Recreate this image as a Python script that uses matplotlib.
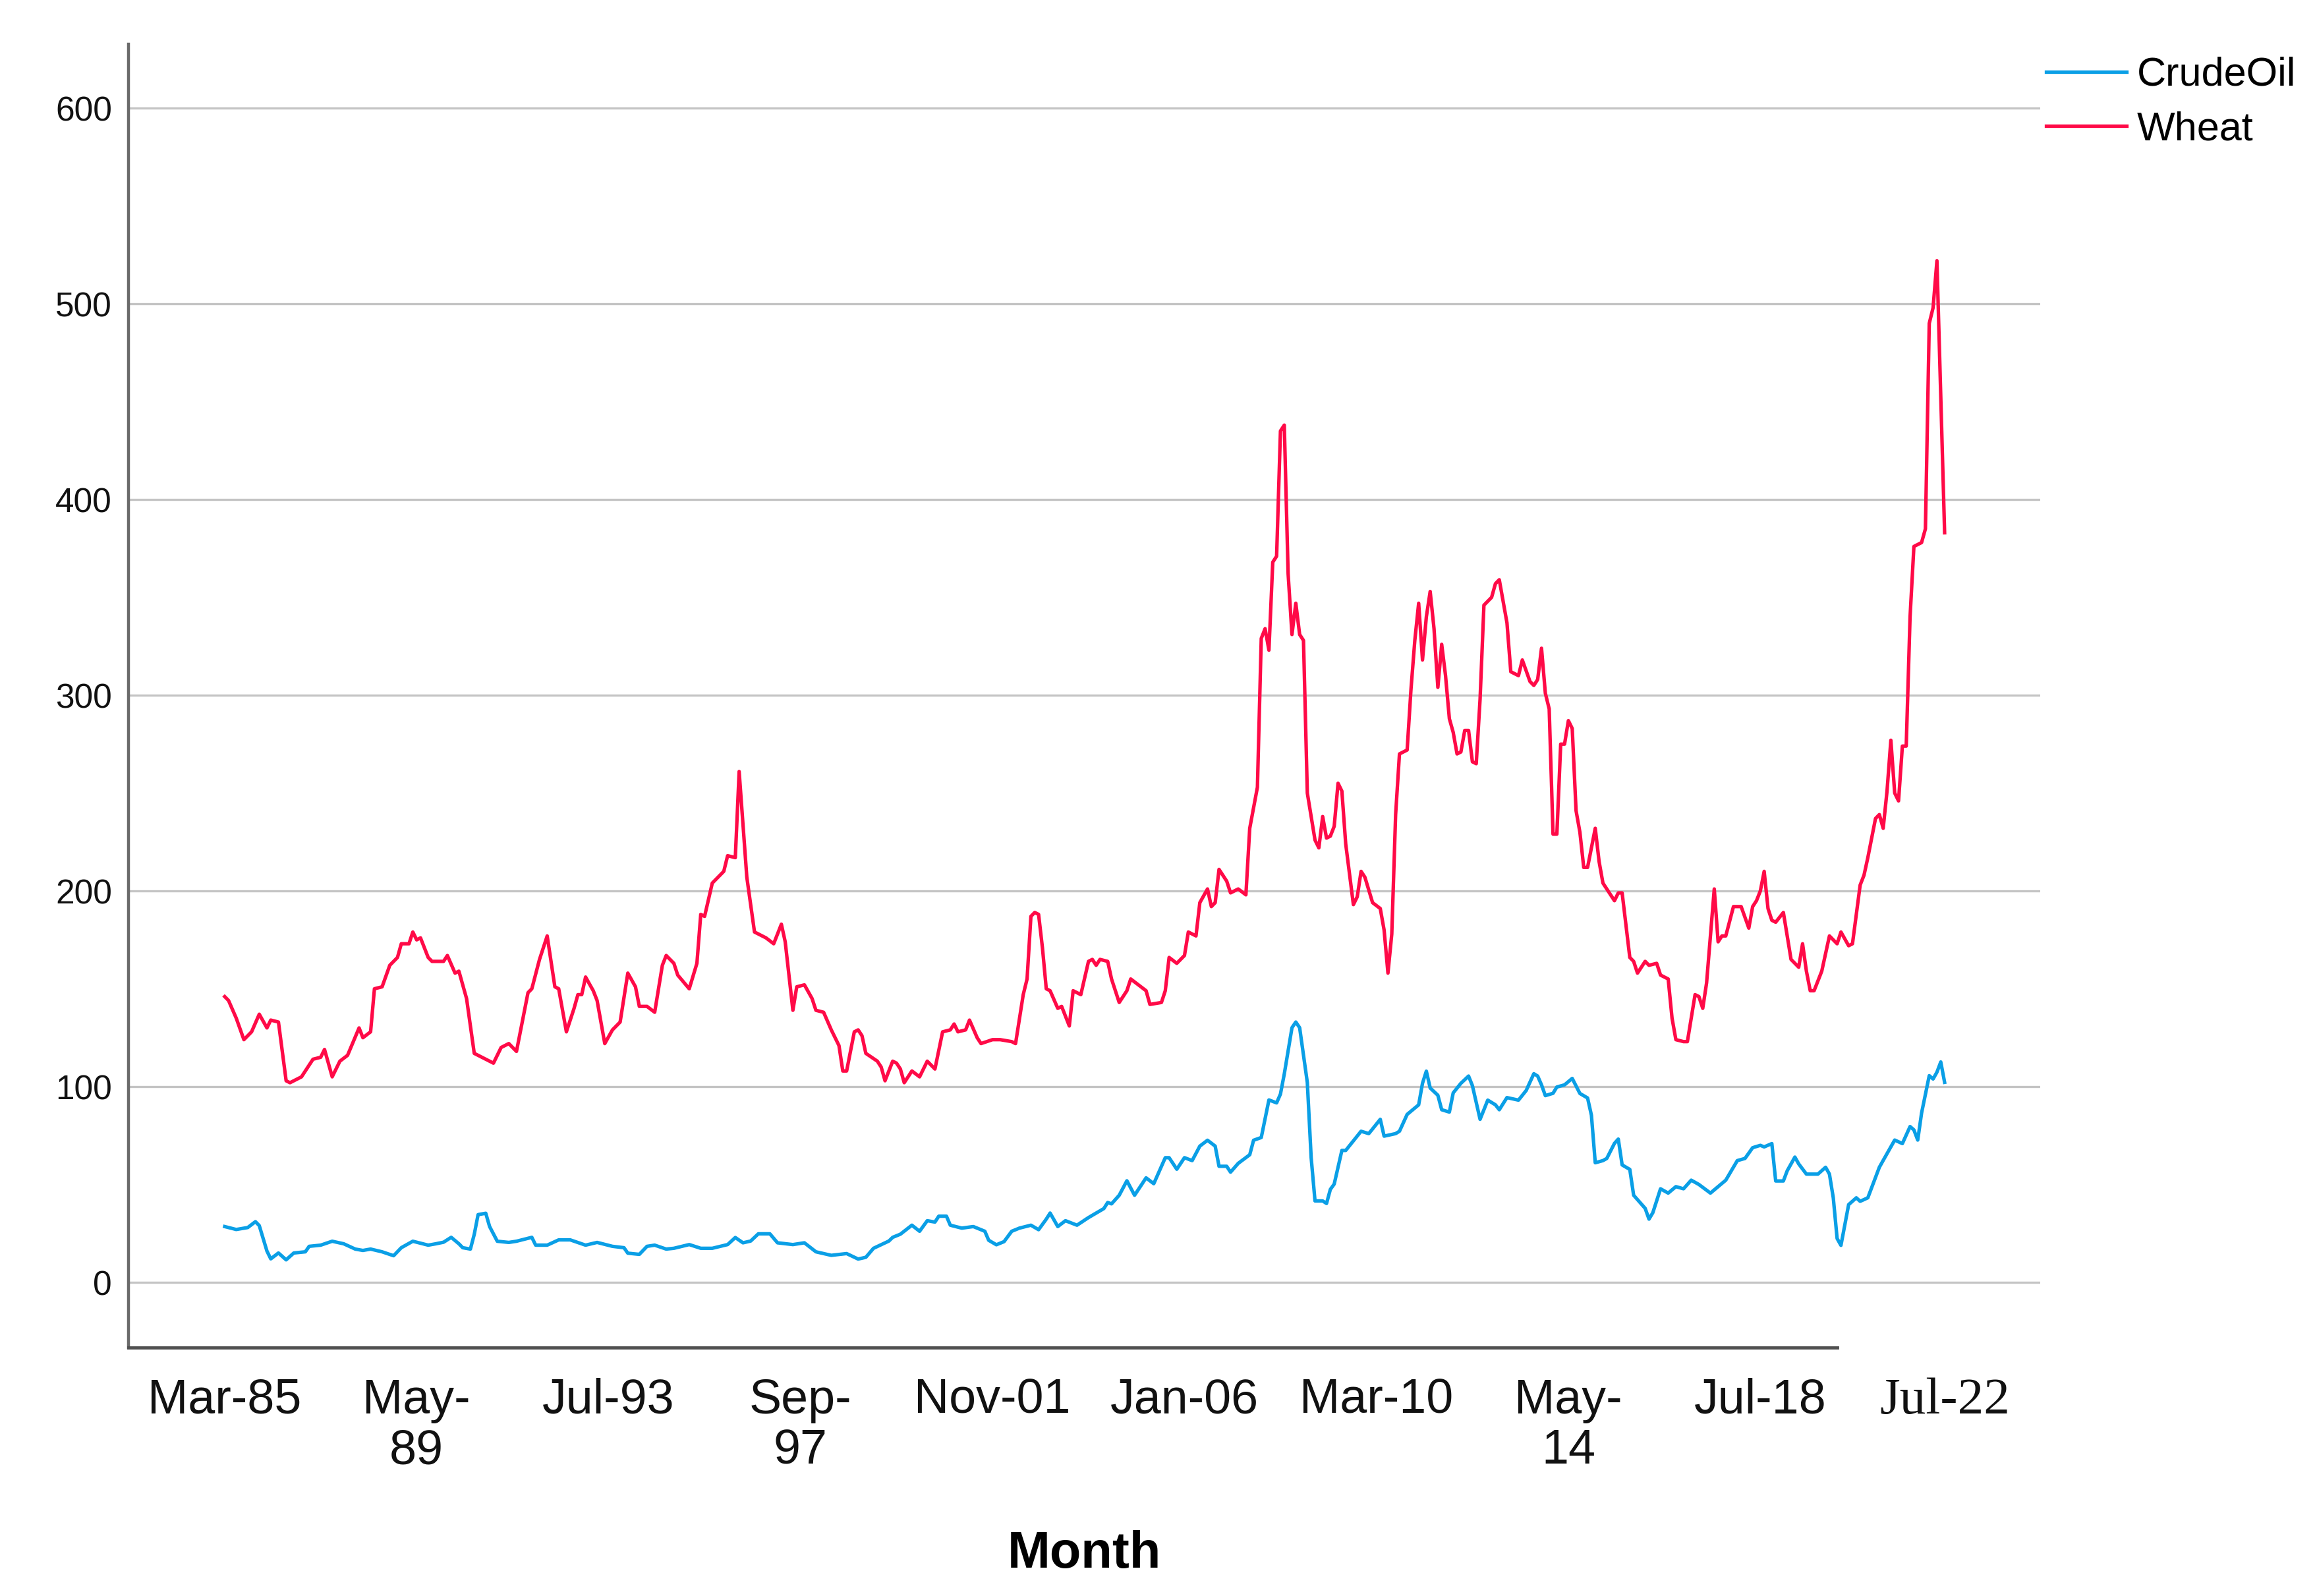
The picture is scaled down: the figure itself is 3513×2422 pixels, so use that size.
import matplotlib
matplotlib.use("Agg")
import matplotlib.pyplot as plt

# Month index 0 = Mar-1985 (monthly series)
wheat_month = [0, 1, 3, 5, 7, 9, 11, 12, 14, 16, 17, 20, 23, 25, 26, 28, 30, 32, 35, 36, 38, 39, 41, 43, 45, 46, 48, 49,
               50, 51, 53, 54, 57, 58, 60, 61, 63, 65, 68, 70, 72, 74, 76, 79, 80, 82, 84, 86, 87, 89, 91, 92, 93, 94,
               96, 97, 99, 101, 103, 105, 107, 108, 110, 112, 114, 115, 117, 118, 121, 123, 124, 125, 127, 129, 130,
               131, 133, 134, 136, 138, 141, 143, 145, 146, 148, 149, 151, 153, 154, 156, 158, 160, 161, 162, 164,
               165, 166, 167, 170, 171, 172, 174, 175, 176, 177, 179, 181, 183, 185, 187, 189, 190, 191, 193, 194,
               196, 197, 200, 202, 205, 206, 208, 209, 210, 211, 212, 213, 214, 215, 217, 218, 220, 221, 223, 225,
               226, 227, 228, 230, 231, 233, 235, 236, 238, 240, 241, 244, 245, 246, 248, 250, 251, 253, 254, 256,
               257, 258, 259, 261, 262, 264, 266, 267, 269, 270, 271, 272, 273, 274, 275, 276, 277, 278, 279, 280,
               281, 282, 284, 285, 286, 287, 288, 289, 290, 291, 292, 294, 295, 296, 297, 299, 301, 302, 303, 304,
               305, 306, 308, 309, 310, 311, 312, 313, 314, 315, 316, 317, 318, 319, 320, 321, 322, 323, 324, 325,
               326, 327, 328, 330, 331, 332, 334, 335, 337, 338, 340, 341, 342, 343, 344, 345, 346, 347, 348, 349,
               350, 351, 352, 353, 354, 355, 357, 358, 359, 360, 362, 363, 364, 366, 367, 368, 370, 371, 373, 374,
               376, 377, 378, 380, 381, 383, 384, 385, 386, 388, 389, 390, 391, 393, 395, 397, 398, 399, 400, 401,
               402, 403, 404, 406, 408, 410, 411, 412, 413, 414, 416, 418, 420, 421, 423, 424, 426, 427, 428, 430,
               431, 432, 433, 434, 435, 436, 437, 438, 439, 440, 442, 443, 444, 445, 446, 448]
wheat_value = [146, 144, 135, 124, 128, 137, 130, 134, 133, 103, 102, 105, 114, 115, 119, 105, 113, 116, 130, 125, 128,
               150, 151, 162, 166, 173, 173, 179, 175, 176, 166, 164, 164, 167, 158, 159, 145, 117, 114, 112, 120, 122,
               118, 148, 150, 165, 177, 151, 150, 128, 140, 147, 147, 156, 149, 144, 122, 129, 133, 158, 151, 141, 141,
               138, 162, 167, 163, 157, 150, 163, 188, 187, 204, 208, 210, 218, 217, 261, 207, 179, 176, 173, 183, 174,
               139, 151, 152, 145, 139, 138, 129, 121, 108, 108, 128, 129, 126, 117, 113, 110, 103, 113, 112, 109, 102,
               108, 105, 113, 109, 128, 129, 132, 128, 129, 134, 125, 122, 124, 124, 123, 122, 147, 155, 187, 189, 188,
               171, 150, 149, 140, 141, 131, 149, 147, 164, 165, 162, 165, 164, 155, 143, 149, 155, 152, 149, 142, 143,
               149, 166, 163, 167, 179, 177, 194, 201, 192, 194, 211, 205, 199, 201, 198, 232, 253, 329, 334, 323, 368,
               371, 435, 438, 362, 331, 347, 331, 328, 250, 226, 222, 238, 227, 228, 233, 255, 251, 224, 193, 197, 210,
               207, 194, 191, 180, 158, 178, 239, 270, 272, 303, 328, 347, 318, 340, 353, 334, 304, 326, 310, 288, 281,
               270, 271, 282, 282, 266, 265, 298, 346, 350, 357, 359, 337, 312, 310, 318, 307, 305, 308, 324, 301, 293,
               229, 229, 275, 275, 287, 283, 241, 230, 212, 212, 232, 215, 204, 201, 195, 199, 199, 166, 164, 158, 164,
               162, 163, 157, 155, 135, 124, 123, 123, 147, 146, 140, 153, 201, 174, 177, 177, 192, 192, 181, 192, 195,
               200, 210, 191, 185, 184, 189, 165, 161, 173, 159, 149, 149, 159, 177, 173, 179, 172, 173, 203, 208, 217,
               237, 239, 232, 251, 277, 250, 246, 274, 274, 340, 376, 378, 385, 490, 498, 522, 383]

oil_month = [0, 3, 6, 8, 9, 11, 12, 14, 16, 18, 21, 22, 25, 28, 31, 34, 36, 38, 41, 44, 46, 49, 53, 55, 57, 59, 61, 62,
             64, 65, 66, 68, 69, 71, 74, 76, 80, 81, 84, 87, 90, 94, 97, 101, 104, 105, 108, 110, 112, 115, 117, 121,
             124, 127, 131, 133, 135, 137, 139, 142, 144, 148, 151, 154, 158, 162, 165, 167, 169, 173, 174, 176, 179,
             181, 183, 185, 186, 188, 189, 192, 195, 198, 199, 201, 203, 205, 207, 210, 212, 214, 215, 217, 219, 222,
             225, 227, 229, 230, 231, 233, 235, 237, 240, 242, 245, 246, 248, 250, 252, 254, 256, 258, 259, 261, 262,
             264, 267, 268, 270, 272, 274, 275, 276, 278, 279, 280, 282, 283, 284, 286, 287, 288, 289, 291, 292, 294,
             296, 298, 299, 301, 302, 305, 306, 308, 311, 312, 313, 314, 316, 317, 319, 320, 322, 324, 325, 327, 329,
             331, 332, 334, 337, 339, 341, 342, 343, 344, 346, 347, 349, 351, 353, 355, 356, 357, 359, 360, 362, 363,
             364, 366, 367, 370, 371, 372, 374, 376, 378, 380, 382, 384, 387, 389, 391, 394, 396, 398, 400, 401, 403,
             404, 406, 407, 409, 410, 412, 415, 417, 418, 419, 420, 421, 422, 423, 425, 426, 428, 430, 431, 432, 434,
             435, 437, 439, 440, 441, 442, 444, 445, 446, 447, 448]
oil_value = [28.5, 27, 28, 31, 29, 16, 12, 15, 11.5, 15, 15.6, 18.4, 19, 21, 19.7, 17, 16.3, 17, 15.6, 13.6, 17.7, 21,
             19, 19.7, 20.5, 23, 19.7, 17.7, 17, 24.5, 34.6, 35.3, 28.5, 21, 20.4, 21, 23, 19, 19, 21.7, 21.7, 19, 20.4,
             18.4, 17.7, 14.9, 14.3, 18.4, 19, 17, 17.4, 19.3, 17.4, 17.4, 19.3, 22.9, 20.2, 21.1, 24.8, 24.8, 20.2,
             19.3, 20.2, 15.6, 13.8, 14.7, 11.9, 12.8, 17.4, 21.1, 23, 24.6, 29.2, 26.1, 31.5, 30.8, 33.8, 33.8, 29.2,
             27.7, 28.5, 26.1, 21.5, 19.2, 20.8, 26.1, 27.7, 29.2, 26.9, 32.3, 35.4, 28.5, 31.5, 29.2, 33.1, 35.4, 37.7,
             40.8, 40.1, 44.5, 51.9, 44.5, 53.4, 50.4, 63.7, 63.7, 57.8, 63.7, 62.2, 69.6, 72.6, 69.6, 59.3, 59.3, 56.3,
             60.8, 65.2, 72.6, 74, 93.2, 91.7, 96.2, 106.5, 130.1, 133, 130.1, 102.1, 63.7, 41.6, 41.6, 40.3, 47.5, 50.2,
             67.4, 67.4, 72.3, 77.2, 76, 78.4, 83.3, 74.7, 76, 77.2, 85.8, 90.7, 101.7, 107.9, 99.3, 95.6, 88.2, 87,
             96.8, 101.7, 105.4, 100.5, 83.3, 93.1, 90.7, 88.2, 94.4, 93.1, 98, 106.6, 105.4, 100.9, 95.4, 96.6, 99.8,
             100.9, 104.2, 96.5, 94.2, 85.4, 61.1, 62.2, 63.3, 71, 73.2, 60, 57.7, 44.5, 37.8, 32.3, 35.6, 47.8, 45.6,
             48.9, 47.8, 52.2, 50, 45.6, 48.9, 52.2, 62.2, 63.3, 68.8, 70, 69.2, 70.9, 51.8, 51.8, 57, 64, 60.5, 55.3,
             55.3, 58.8, 55.3, 43.2, 22.4, 18.9, 29.3, 39.7, 43.2, 41.4, 43.2, 53.6, 58.8, 62.3, 69.2, 72.7, 70.9, 79.6,
             77.9, 72.7, 86.5, 105.6, 103.9, 107.4, 112.6, 102.2]

tick_months = [0, 50, 100, 150, 200, 250, 300, 350, 400, 448]
tick_labels = ["Mar-85", "May-\n89", "Jul-93", "Sep-\n97", "Nov-01", "Jan-06", "Mar-10", "May-\n14", "Jul-18", "Jul-22"]
y_ticks = [0, 100, 200, 300, 400, 500, 600]

plt.rcParams['font.family'] = ['Liberation Sans', 'DejaVu Sans']

W, H = 3513, 2422
fig = plt.figure(figsize=(W / 100, H / 100), dpi=100)
L, R, T, B = 195, 3096, 67, 2045
ax = fig.add_axes([L / W, 1 - B / H, (R - L) / W, (B - T) / H])

ax.plot(oil_month, oil_value, color='#0A9FE6', lw=3.8, label='CrudeOil', solid_joinstyle='round')
ax.plot(wheat_month, wheat_value, color='#FF0A47', lw=3.8, label='Wheat', solid_joinstyle='round')

ax.set_xlim(-25.06, 472.9)
ax.set_ylim(-33.33, 632.66)
ax.set_yticks(y_ticks)
ax.yaxis.grid(True, color='#c4c4c4', lw=2.4)
ax.set_axisbelow(True)
ax.set_xticks(tick_months, tick_labels)
ax.tick_params(axis='x', length=0, pad=33, labelsize=53, colors='#111111')
ax.tick_params(axis='y', length=0, pad=18, labelsize=37, colors='#111111')
for lbl in ax.get_xticklabels():
    lbl.set_linespacing(1.14)
last = ax.get_xticklabels()[-1]
last.set_fontfamily(['Liberation Serif', 'DejaVu Serif'])
last.set_fontsize(57)

for s in ['top', 'right']:
    ax.spines[s].set_visible(False)
ax.spines['left'].set_color('#6a6a6a')
ax.spines['left'].set_linewidth(3.2)
ax.spines['bottom'].set_color('#505050')
ax.spines['bottom'].set_linewidth(3.5)
ax.spines['bottom'].set_bounds(-25.06, 420)

ax.set_xlabel('Month', fontsize=56, fontweight='bold', va='center')
ax.xaxis.set_label_coords(0.5, (B - 2358) / (B - T))

ax.legend(loc='upper left', bbox_to_anchor=(3105 / W, 1 - 86 / H), bbox_transform=fig.transFigure,
          frameon=False, fontsize=44, handlelength=2.0, handletextpad=0.26, labelspacing=0.42,
          borderpad=0, borderaxespad=0)

fig.savefig('out.png', dpi=100)
